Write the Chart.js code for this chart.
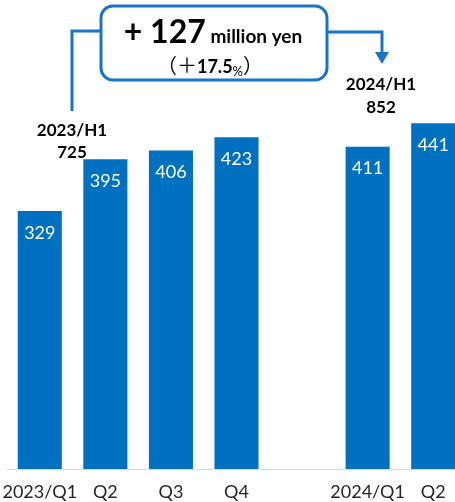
<!DOCTYPE html>
<html>
<head>
<meta charset="utf-8">
<script src="https://cdn.jsdelivr.net/npm/chart.js@4"></script>
<style>
  html, body { margin: 0; padding: 0; background: #fff; overflow: hidden; }
  canvas { display: block; }
</style>
</head>
<body>
<canvas id="salesChart" width="470" height="502"></canvas>
<script>
// quarterly sales (million yen), empty slot between the two years
const quarters = ['2023/Q1', 'Q2', 'Q3', 'Q4', '', '2024/Q1', 'Q2'];
const sales = [329, 395, 406, 423, null, 411, 441];
const halfLabels = ['2023/H1', '2024/H1'];
const halfTotals = [725, 852];
const growthAmount = 127;
const growthRate = 17.5;

const BLUE = '#0070c0';
const LINE_BLUE = '#1a74c6';

// white numbers inside each bar
const barValues = {
  id: 'barValues',
  afterDatasetsDraw(chart) {
    const c = chart.ctx;
    const meta = chart.getDatasetMeta(0);
    c.save();
    c.fillStyle = '#fff';
    c.font = '18px Lato';
    c.textAlign = 'center';
    c.textBaseline = 'middle';
    meta.data.forEach((bar, i) => {
      if (sales[i] == null) return;
      c.fillText(sales[i], bar.x, bar.y + 22);
    });
    c.restore();
  }
};

// H1 totals, comparison box and connectors
const callout = {
  id: 'callout',
  afterDraw(chart) {
    const c = chart.ctx;
    c.save();

    c.fillStyle = '#000';
    c.font = 'bold 17px Lato';
    c.textAlign = 'center';
    c.textBaseline = 'middle';
    c.fillText(halfLabels[0], 72, 131);
    c.fillText(halfTotals[0], 72, 153);
    c.fillText(halfLabels[1], 381, 85);
    c.fillText(halfTotals[1], 381, 108);

    c.strokeStyle = LINE_BLUE;
    c.lineWidth = 3;
    // left connector
    c.beginPath();
    c.moveTo(72, 111);
    c.lineTo(72, 31);
    c.lineTo(101, 31);
    c.stroke();
    // right connector
    c.beginPath();
    c.moveTo(326, 32);
    c.lineTo(382, 32);
    c.lineTo(382, 53);
    c.stroke();
    c.fillStyle = LINE_BLUE;
    c.beginPath();
    c.moveTo(375, 52);
    c.lineTo(389, 52);
    c.lineTo(382, 64);
    c.closePath();
    c.fill();

    // box
    c.fillStyle = '#fff';
    c.beginPath();
    c.roundRect(101, 6, 226, 74, 12);
    c.fill();
    c.stroke();

    // first line: + 127 million yen
    c.fillStyle = '#000';
    c.textBaseline = 'alphabetic';
    c.textAlign = 'left';
    const big = '+ ' + growthAmount;
    c.font = 'bold 32px Lato';
    const w1 = c.measureText(big).width;
    c.font = 'bold 19px Lato';
    const w2 = c.measureText(' million yen').width;
    let x = 213 - (w1 + w2) / 2;
    c.font = 'bold 32px Lato';
    c.fillText(big, x, 43);
    c.font = 'bold 19px Lato';
    c.fillText(' million yen', x + w1, 43);

    // second line: (+17.5%)
    const parts = [
      ['（', '20px "Noto Sans CJK JP"', 73],
      ['＋', '20px "Noto Sans CJK JP"', 73],
      [growthRate.toFixed(1), 'bold 18px Lato', 73],
      ['%', '13px Lato', 76],
      ['）', '20px "Noto Sans CJK JP"', 73]
    ];
    let total = 0;
    parts.forEach(p => { c.font = p[1]; total += c.measureText(p[0]).width; });
    x = 210 - total / 2;
    parts.forEach(p => {
      c.font = p[1];
      c.fillText(p[0], x, p[2]);
      x += c.measureText(p[0]).width;
    });

    c.restore();
  }
};

new Chart(document.getElementById('salesChart'), {
  type: 'bar',
  data: {
    labels: quarters,
    datasets: [{
      data: sales,
      backgroundColor: BLUE,
      categoryPercentage: 1,
      barPercentage: 0.672
    }]
  },
  options: {
    responsive: false,
    animation: false,
    layout: { padding: { left: 7, right: 4, top: 0, bottom: 0 } },
    plugins: {
      legend: { display: false },
      tooltip: { enabled: false }
    },
    scales: {
      x: {
        grid: { display: false, drawTicks: false },
        border: { display: true, color: '#d9d9d9', width: 1 },
        ticks: {
          color: '#262626',
          font: { family: 'Lato', size: 18 },
          padding: 12,
          maxRotation: 0,
          autoSkip: false
        },
        afterFit(scale) {
          scale.paddingLeft = 0;
          scale.paddingRight = 0;
          scale.height = 33;
        }
      },
      y: {
        display: false,
        min: 0,
        max: 598
      }
    }
  },
  plugins: [barValues, callout]
});
</script>
</body>
</html>
